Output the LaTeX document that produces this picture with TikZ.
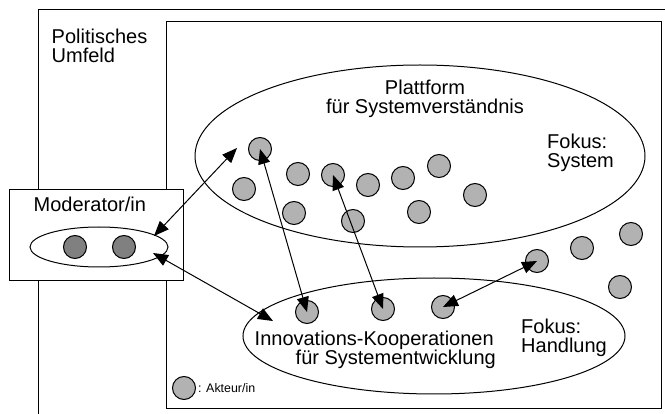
\documentclass[tikz,border=0pt]{standalone}
\usepackage{fontspec}
\setmainfont{Liberation Sans}
\usetikzlibrary{shapes.geometric}
\usetikzlibrary{arrows.meta}
\tikzset{
akteur/.style={ % Sets the properties for each actor
circle, draw, line width=1pt,
fill=black!30,
minimum size=23pt, inner sep=0pt},
leiter/.style={akteur, fill=black!50}, % moderators are darker
feld/.style={ellipse, draw, line width=1pt, inner sep=0pt},
schrift/.style={inner sep=0pt, align=left,
font=\fontsize{20}{19.5}\selectfont},
eng/.style={font={\fontsize{20}{19}\selectfont\setlength\lineskiplimit{-20pt}}}, % tight lines
link/.style={ % Sets the properties for each double arrow
draw, line width=1pt,
{Triangle[length=15pt,width=12pt]}-{Triangle[length=15pt,width=12pt]}}}

\begin{document}
\begin{tikzpicture}[x=1pt,y=-1pt]
\useasboundingbox (0,0) rectangle (665,414);
\clip (0,0) rectangle (665,414);
% frames
\draw[line width=1pt] (38,10) rectangle (700,450);
\draw[line width=1pt] (166,22) rectangle (661,409);
\draw[line width=1pt, fill=white] (9,190) rectangle (183,281);
% fields
\node[feld, minimum width=450pt, minimum height=182pt] (plattform) at (420,156) {};
\node[feld, minimum width=382pt, minimum height=116pt] (koop) at (434,336) {};
\node[feld, minimum width=138pt, minimum height=40pt] (mod) at (99,247) {};
% actors
\node[akteur] (a1) at (260,149) {};
\node[akteur] (a2) at (244,189) {};
\node[akteur] (a3) at (298,174) {};
\node[akteur] (a4) at (333,175) {};
\node[akteur] (a5) at (368,185) {};
\node[akteur] (a6) at (403,178) {};
\node[akteur] (a7) at (439,166) {};
\node[akteur] (a8) at (475,195) {};
\node[akteur] (a9) at (294,213) {};
\node[akteur] (a10) at (353,221) {};
\node[akteur] (a11) at (419,212) {};
\node[akteur] (h1) at (537,261) {};
\node[akteur] (h2) at (582,248) {};
\node[akteur] (h3) at (631,234) {};
\node[akteur] (h4) at (620,287) {};
\node[akteur] (k1) at (307,312) {};
\node[akteur] (k2) at (383,309) {};
\node[akteur] (k3) at (443,307) {};
\node[leiter] (m1) at (75,247) {};
\node[leiter] (m2) at (124,247) {};
\node[akteur] (leg) at (184,388) {};
% texts
\node[schrift, anchor=north west] (umfeld) at (51.5,28.7) {Politisches\\Umfeld};
\node[schrift, anchor=north, align=center] (pltext) at (425,79.4) {Plattform\\für Systemverständnis};
\node[schrift, anchor=north west] (fsys) at (547,133.5) {Fokus:\\System};
\node[schrift, anchor=base west] (modtext) at (33.5,212) {Moderator/in};
\node[schrift, eng, anchor=north west] (innov) at (254.5,331.2)
  {Innovations-Kooperationen\\\kern41pt für Systementwicklung};
\node[schrift, anchor=north west] (fhand) at (521,318.7) {Fokus:\\Handlung};
\node[inner sep=0pt, anchor=base west, font=\fontsize{12.4}{14}\selectfont] (legtext) at (198,393) {: Akteur/in};
% connections
\coordinate (p1) at (154,236);
\coordinate (p2) at (237,148);
\coordinate (p3) at (153,253);
\coordinate (p4) at (273,321);
\draw[link] (p1) -- (p2);
\draw[link] (p3) -- (p4);
\draw[link] (a1.center) -- (k1.center);
\draw[link] (a4.center) -- (k2.center);
\draw[link] (k3.center) -- (h1.center);
\end{tikzpicture}
\end{document}
